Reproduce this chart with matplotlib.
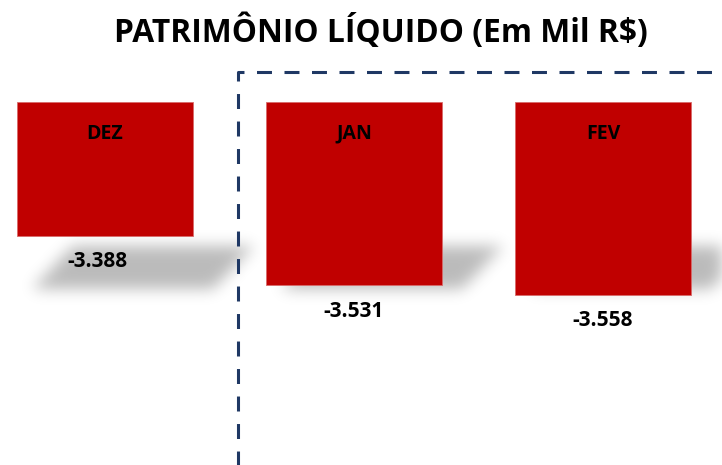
import numpy as np
import matplotlib
matplotlib.use("Agg")
import matplotlib.pyplot as plt
from matplotlib.lines import Line2D

# Data
months = ["DEZ", "JAN", "FEV"]
values = [-3.388, -3.531, -3.558]
value_labels = ["-3.388", "-3.531", "-3.558"]
baseline = -3.0

plt.rcParams["font.family"] = ["Open Sans", "DejaVu Sans"]

W, H = 722, 465
fig = plt.figure(figsize=(W / 100, H / 100), dpi=100)
ax = fig.add_axes([0, 0, 1, 1])
ax.set_xlim(-0.422, 2.478)
ax.set_ylim(-4.052, -2.704)
ax.axis("off")

x = np.arange(len(months))
bar_w = 0.707
heights = [v - baseline for v in values]

# soft perspective shadows behind bars
fig.canvas.draw()
yy, xx = np.mgrid[0:H, 0:W]
mask = np.zeros((H, W))
for xi in x:
    (lx, _), (rx, _) = ax.transData.transform([(xi - bar_w / 2, 0), (xi + bar_w / 2, 0)])
    top, bot = 246, 288
    t = (yy - top) / (bot - top)
    left = lx + 55 - 40 * t
    right = rx + 60 - 40 * t
    inside = (yy >= top) & (yy <= bot) & (xx >= left) & (xx <= right)
    mask[inside] = 1.0
k = np.exp(-0.5 * (np.arange(-24, 25) / 7.5) ** 2)
k /= k.sum()
mask = np.apply_along_axis(lambda r: np.convolve(r, k, mode="same"), 1, mask)
mask = np.apply_along_axis(lambda c: np.convolve(c, k, mode="same"), 0, mask)
shadow = np.zeros((H, W, 4))
shadow[..., 3] = mask * 0.27
ax.imshow(shadow, extent=[*ax.get_xlim(), *ax.get_ylim()], origin="upper",
          aspect="auto", zorder=1, interpolation="bilinear")

ax.bar(x, heights, bottom=baseline, width=bar_w, color="#C00000",
       edgecolor="#D86A6A", linewidth=0.6, zorder=2)

for xi, m in zip(x, months):
    ax.text(xi, baseline - 0.092, m, ha="center", va="center",
            fontsize=14, fontweight="bold", color="black", zorder=3)
for xi, v, lab in zip(x, values, value_labels):
    ax.text(xi - (0.03 if xi == 0 else 0), v - 0.075, lab, ha="center", va="center",
            fontsize=15, fontweight="bold", color="black", zorder=3)

fig.text(0.5277, 0.931, "PATRIMÔNIO LÍQUIDO (Em Mil R$)", ha="center", va="center",
         fontsize=22.9, fontweight="bold", color="black")

# dashed highlight frame
lx, ty = 238 / W, 1 - 72 / H
frame = Line2D([lx, lx, 1.02], [-0.01, ty, ty], transform=ax.transAxes,
               color="#1F3864", linewidth=2.2, dashes=(4.9, 4.1), clip_on=False, zorder=4)
ax.add_line(frame)

fig.savefig("out.png", dpi=100)
